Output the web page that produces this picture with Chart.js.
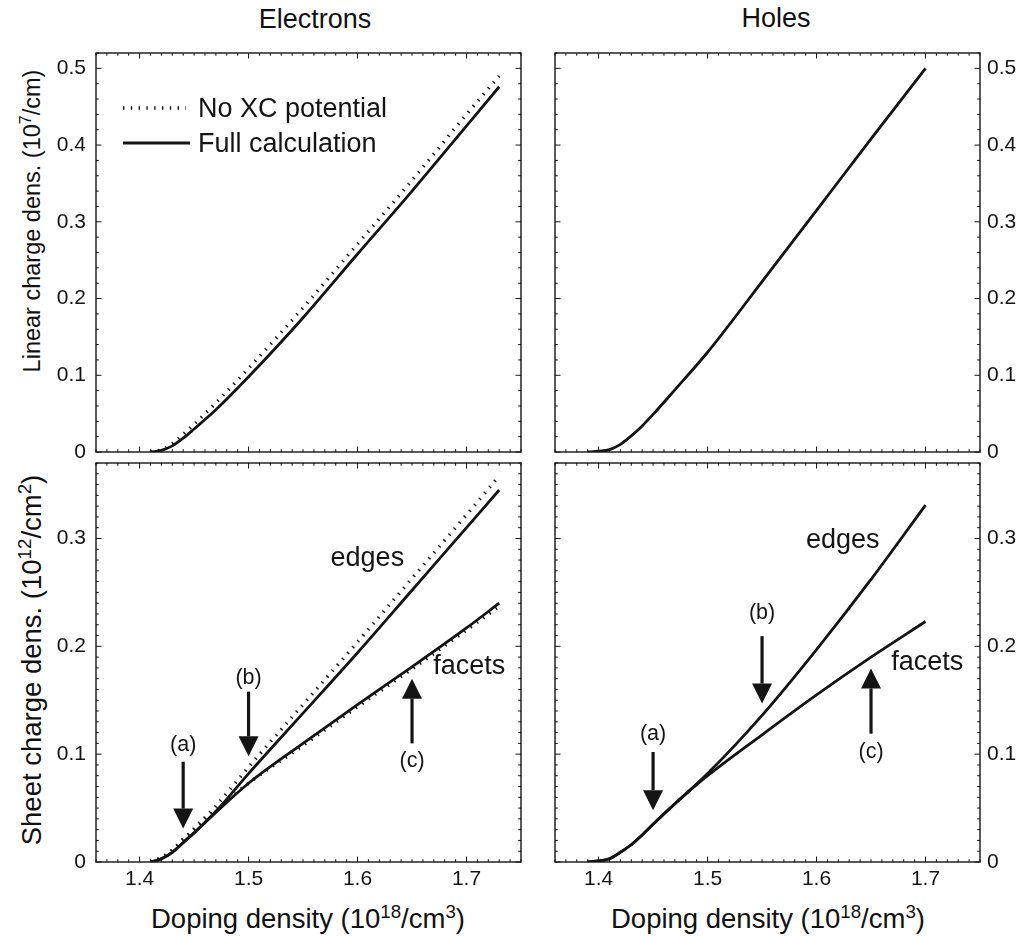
<!DOCTYPE html>
<html>
<head>
<meta charset="utf-8">
<script src="https://cdn.jsdelivr.net/npm/chart.js@4.4.1/dist/chart.umd.min.js"></script>
<style>
  body { margin: 0; background: #fff; width: 1021px; height: 936px; position: relative; overflow: hidden;
         font-family: "Liberation Sans", Arial, sans-serif; color: #111; }
  canvas { position: absolute; }
  .lbl { position: absolute; transform: translate(-50%, -50%); white-space: nowrap; line-height: 1; }
  .rot { transform: translate(-50%, -50%) rotate(-90deg); }
  sup { font-size: 0.68em; vertical-align: baseline; position: relative; top: -0.55em; }
</style>
</head>
<body>
<div class="lbl" style="left:315px;top:19px;font-size:27px">Electrons</div>
<div class="lbl" style="left:776px;top:18px;font-size:27px">Holes</div>
<div class="lbl rot" style="left:33px;top:221px;font-size:23.5px">Linear charge dens. (10<sup>7</sup>/cm)</div>
<div class="lbl rot" style="left:32px;top:660px;font-size:27.5px">Sheet charge dens. (10<sup>12</sup>/cm<sup>2</sup>)</div>
<div class="lbl" style="left:308px;top:919px;font-size:27.5px">Doping density (10<sup>18</sup>/cm<sup>3</sup>)</div>
<div class="lbl" style="left:768px;top:919px;font-size:27.5px">Doping density (10<sup>18</sup>/cm<sup>3</sup>)</div>

<canvas id="elecLinear" width="500" height="460" style="left:40px;top:20px"></canvas>
<canvas id="holeLinear" width="481" height="460" style="left:540px;top:20px"></canvas>
<canvas id="elecSheet" width="500" height="506" style="left:40px;top:430px"></canvas>
<canvas id="holeSheet" width="481" height="506" style="left:540px;top:430px"></canvas>

<script>
// doping density (10^18 /cm^3)
const dopingElec = [1.41, 1.42, 1.43, 1.44, 1.45, 1.47, 1.50, 1.55, 1.60, 1.65, 1.70, 1.73];
const dopingHole = [1.39, 1.40, 1.41, 1.42, 1.43, 1.44, 1.45, 1.47, 1.50, 1.55, 1.60, 1.65, 1.70];

// linear charge density (10^7 /cm)
const elecLinearFull = [0, 0.002, 0.008, 0.018, 0.030, 0.055, 0.098, 0.175, 0.258, 0.340, 0.425, 0.476];
const elecLinearNoXC = [0, 0.003, 0.011, 0.023, 0.036, 0.064, 0.109, 0.188, 0.271, 0.354, 0.440, 0.490];
const holeLinearFull = [0, 0.001, 0.003, 0.010, 0.021, 0.034, 0.049, 0.081, 0.130, 0.222, 0.315, 0.408, 0.500];

// sheet charge density (10^12 /cm^2)
const elecEdgesFull  = [0, 0.003, 0.009, 0.018, 0.027, 0.047, 0.082, 0.138, 0.194, 0.252, 0.310, 0.345];
const elecEdgesNoXC  = [0, 0.004, 0.011, 0.021, 0.031, 0.052, 0.088, 0.146, 0.204, 0.263, 0.322, 0.358];
const elecFacetsFull = [0, 0.003, 0.009, 0.018, 0.027, 0.046, 0.073, 0.110, 0.146, 0.181, 0.217, 0.240];
const elecFacetsNoXC = [0, 0.004, 0.011, 0.021, 0.030, 0.048, 0.073, 0.108, 0.144, 0.179, 0.215, 0.237];
const holeEdgesFull  = [0, 0.001, 0.003, 0.009, 0.016, 0.025, 0.035, 0.054, 0.082, 0.136, 0.197, 0.262, 0.331];
const holeFacetsFull = [0, 0.001, 0.003, 0.009, 0.016, 0.025, 0.035, 0.054, 0.080, 0.118, 0.155, 0.190, 0.223];

// axis ticks
const xTicks = [1.4, 1.5, 1.6, 1.7];
const linearTicks = [0, 0.1, 0.2, 0.3, 0.4, 0.5];
const sheetTicks = [0, 0.1, 0.2, 0.3];

const FONT = '"Liberation Sans", Arial, sans-serif';
const INK = '#141414';

function pairs(xs, ys) {
  return xs.map((x, i) => ({ x, y: ys[i] }));
}

function solid(xs, ys) {
  return {
    data: pairs(xs, ys), borderColor: INK, borderWidth: 2.8, pointRadius: 0,
    cubicInterpolationMode: 'monotone', borderCapStyle: 'butt'
  };
}

function dotted(xs, ys) {
  return {
    data: pairs(xs, ys), borderColor: INK, borderWidth: 3.4, borderDash: [1.4, 6.4], pointRadius: 0,
    cubicInterpolationMode: 'monotone', borderCapStyle: 'butt'
  };
}

// box around the plot area with inward major/minor ticks on all four sides
const framePlugin = {
  id: 'frame',
  afterDatasetsDraw(chart, args, opts) {
    const { ctx, chartArea: a, scales: { x, y } } = chart;
    ctx.save();
    ctx.strokeStyle = INK;
    ctx.lineWidth = 1;
    ctx.beginPath();
    const marks = (scale, step, majors) => {
      const out = [];
      for (let k = Math.ceil(scale.min / step - 1e-6); k * step <= scale.max + 1e-9; k++) {
        const v = k * step;
        const major = majors.some(m => Math.abs(m - v) < step / 10);
        out.push({ p: scale.getPixelForValue(v), len: major ? 5.5 : 2.8 });
      }
      return out;
    };
    marks(x, 0.01, xTicks).forEach(({ p, len }) => {
      ctx.moveTo(p, a.bottom); ctx.lineTo(p, a.bottom - len);
      ctx.moveTo(p, a.top); ctx.lineTo(p, a.top + len);
    });
    marks(y, opts.yMinor, opts.yMajor).forEach(({ p, len }) => {
      ctx.moveTo(a.left, p); ctx.lineTo(a.left + len, p);
      ctx.moveTo(a.right, p); ctx.lineTo(a.right - len, p);
    });
    ctx.stroke();
    ctx.lineWidth = 1.4;
    ctx.strokeRect(a.left, a.top, a.right - a.left, a.bottom - a.top);
    ctx.restore();
  }
};

// text labels, arrows and the legend inside the plot
const notesPlugin = {
  id: 'notes',
  afterDraw(chart, args, opts) {
    const { ctx, chartArea: a, scales: { x, y } } = chart;
    ctx.save();
    ctx.fillStyle = INK;
    ctx.strokeStyle = INK;
    ctx.textAlign = 'center';
    ctx.textBaseline = 'middle';
    (opts.labels || []).forEach(l => {
      ctx.font = l.size + 'px ' + FONT;
      ctx.fillText(l.text, x.getPixelForValue(l.x), y.getPixelForValue(l.y));
    });
    (opts.arrows || []).forEach(ar => {
      const px = x.getPixelForValue(ar.x);
      const from = y.getPixelForValue(ar.from);
      const tip = y.getPixelForValue(ar.to);
      const dir = tip > from ? 1 : -1;
      const base = tip - dir * 20;
      ctx.lineWidth = 3.2;
      ctx.beginPath();
      ctx.moveTo(px, from);
      ctx.lineTo(px, base);
      ctx.stroke();
      ctx.beginPath();
      ctx.moveTo(px - 10, base);
      ctx.lineTo(px + 10, base);
      ctx.lineTo(px, tip);
      ctx.closePath();
      ctx.fill();
    });
    if (opts.legend) {
      const lx = a.left + 27, tx = a.left + 102;
      ctx.lineCap = 'butt';
      ctx.lineWidth = 3.4;
      ctx.setLineDash([1.4, 6.4]);
      ctx.beginPath();
      ctx.moveTo(lx, a.top + 55); ctx.lineTo(lx + 63, a.top + 55);
      ctx.stroke();
      ctx.setLineDash([]);
      ctx.lineWidth = 2.8;
      ctx.beginPath();
      ctx.moveTo(lx, a.top + 90); ctx.lineTo(lx + 67, a.top + 90);
      ctx.stroke();
      ctx.font = '27px ' + FONT;
      ctx.textAlign = 'left';
      ctx.fillText('No XC potential', tx, a.top + 57);
      ctx.fillText('Full calculation', tx, a.top + 92);
    }
    ctx.restore();
  }
};

function panel(id, cfg) {
  const left = cfg.side === 'left';
  const yTickValues = cfg.yTicks;
  return new Chart(document.getElementById(id), {
    type: 'line',
    data: { datasets: cfg.datasets },
    plugins: [framePlugin, notesPlugin],
    options: {
      responsive: false,
      animation: false,
      devicePixelRatio: 1,
      layout: {
        padding: {
          left: left ? 0 : 15,
          right: left ? 19 : 0,
          top: 33,
          bottom: cfg.showX ? 0 : 28
        }
      },
      scales: {
        x: {
          type: 'linear', min: 1.36, max: 1.75, bounds: 'data',
          grid: { display: false, drawTicks: false }, border: { display: false },
          afterBuildTicks: s => { s.ticks = xTicks.map(v => ({ value: v })); },
          afterFit: s => { s.height = cfg.showX ? 74 : 0; },
          ticks: {
            display: cfg.showX, padding: 5, color: INK, maxRotation: 0,
            font: { family: FONT, size: 21 }, callback: v => String(v)
          }
        },
        y: {
          type: 'linear', position: cfg.side, min: 0, max: cfg.yMax, bounds: 'data',
          grid: { display: false, drawTicks: false }, border: { display: false },
          afterBuildTicks: s => { s.ticks = yTickValues.map(v => ({ value: v })); },
          afterFit: s => { s.width = left ? 56 : 41; },
          ticks: {
            padding: left ? 10 : 7, color: INK,
            font: { family: FONT, size: 21 }, callback: v => String(v)
          }
        }
      },
      plugins: {
        legend: { display: false },
        tooltip: { enabled: false },
        frame: { yMinor: cfg.yMinor, yMajor: yTickValues },
        notes: cfg.notes || {}
      }
    }
  });
}

panel('elecLinear', {
  side: 'left', showX: false, yMax: 0.52, yMinor: 0.02, yTicks: linearTicks,
  datasets: [solid(dopingElec, elecLinearFull), dotted(dopingElec, elecLinearNoXC)],
  notes: { legend: true }
});

panel('holeLinear', {
  side: 'right', showX: false, yMax: 0.52, yMinor: 0.02, yTicks: linearTicks,
  datasets: [solid(dopingHole, holeLinearFull)]
});

panel('elecSheet', {
  side: 'left', showX: true, yMax: 0.37, yMinor: 0.01, yTicks: sheetTicks,
  datasets: [
    solid(dopingElec, elecEdgesFull), solid(dopingElec, elecFacetsFull),
    dotted(dopingElec, elecEdgesNoXC), dotted(dopingElec, elecFacetsNoXC)
  ],
  notes: {
    labels: [
      { text: 'edges', x: 1.609, y: 0.281, size: 27 },
      { text: 'facets', x: 1.7025, y: 0.181, size: 27 },
      { text: '(a)', x: 1.44, y: 0.108, size: 21.5 },
      { text: '(b)', x: 1.50, y: 0.171, size: 21.5 },
      { text: '(c)', x: 1.65, y: 0.094, size: 21.5 }
    ],
    arrows: [
      { x: 1.44, from: 0.093, to: 0.031 },
      { x: 1.50, from: 0.158, to: 0.098 },
      { x: 1.65, from: 0.110, to: 0.170 }
    ]
  }
});

panel('holeSheet', {
  side: 'right', showX: true, yMax: 0.37, yMinor: 0.01, yTicks: sheetTicks,
  datasets: [solid(dopingHole, holeEdgesFull), solid(dopingHole, holeFacetsFull)],
  notes: {
    labels: [
      { text: 'edges', x: 1.624, y: 0.298, size: 27 },
      { text: 'facets', x: 1.7015, y: 0.185, size: 27 },
      { text: '(a)', x: 1.45, y: 0.119, size: 21.5 },
      { text: '(b)', x: 1.55, y: 0.231, size: 21.5 },
      { text: '(c)', x: 1.65, y: 0.102, size: 21.5 }
    ],
    arrows: [
      { x: 1.45, from: 0.102, to: 0.048 },
      { x: 1.55, from: 0.2095, to: 0.147 },
      { x: 1.65, from: 0.119, to: 0.1795 }
    ]
  }
});
</script>
</body>
</html>
